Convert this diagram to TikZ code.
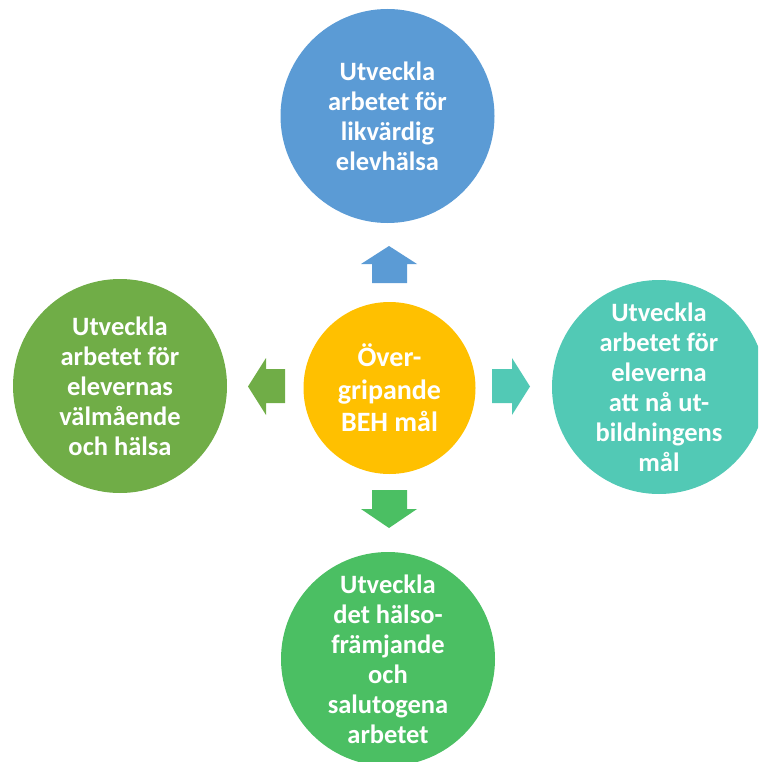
\documentclass[tikz,border=0pt]{standalone}
\usepackage{fontspec}
\setmainfont{Carlito}
\definecolor{cblue}{HTML}{5B9BD5}
\definecolor{cgold}{HTML}{FFC000}
\definecolor{cleaf}{HTML}{70AD47}
\definecolor{cteal}{HTML}{52C9B5}
\definecolor{cgreen}{HTML}{4BBF63}
\tikzset{
  bubble/.style={circle, minimum size=214pt, inner sep=0pt, align=center, text=white,
    font=\fontsize{26.5}{30}\selectfont\bfseries},
  hub/.style={bubble, minimum size=172pt, font=\fontsize{28}{32.5}\selectfont\bfseries},
  blockarrow/.style={line width=0pt}
}
\begin{document}
\begin{tikzpicture}[x=1pt,y=-1pt]
\useasboundingbox (0,0) rectangle (758,762);
\clip (0,0) rectangle (758,762);
\node[hub, fill=cgold] (hub) at (389.5,388) {Över-\\gripande\\BEH mål};
\node[bubble, fill=cblue] (top) at (387.5,116) {Utveckla\\arbetet för\\likvärdig\\elevhälsa};
\node[bubble, fill=cleaf] (left) at (120,386) {Utveckla\\arbetet för\\elevernas\\välmående\\och hälsa};
\node[bubble, fill=cteal] (right) at (659,387) {Utveckla\\arbetet för\\eleverna\\att nå ut-\\bildningens\\mål};
\node[bubble, fill=cgreen] (bottom) at (388,659) {Utveckla\\det hälso-\\främjande\\och\\salutogena\\arbetet};
% up arrow
\fill[cblue, blockarrow] (372,283) -- (372,264) -- (361,264) -- (389,246) -- (417,264) -- (407,264) -- (407,283) -- cycle;
% right arrow
\fill[cteal, blockarrow] (492,369) -- (512,369) -- (512,358) -- (530,386.5) -- (512,415) -- (512,403) -- (492,403) -- cycle;
% down arrow
\fill[cgreen, blockarrow] (372,490) -- (372,509) -- (361,509) -- (389,528) -- (417,509) -- (407,509) -- (407,490) -- cycle;
% left arrow
\fill[cleaf, blockarrow] (285,369) -- (266,369) -- (266,358) -- (248,386.5) -- (266,415) -- (266,403) -- (285,403) -- cycle;
\end{tikzpicture}
\end{document}
